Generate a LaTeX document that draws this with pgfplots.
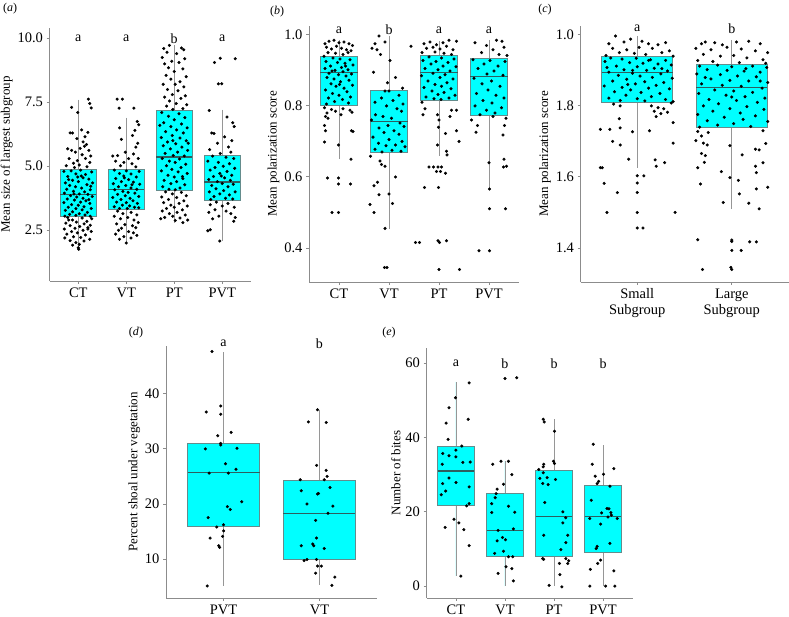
\documentclass[border=0pt]{standalone}
\usepackage{pgfplots}
\pgfplotsset{compat=1.18}
\usepgfplotslibrary{statistics}
\usepackage{fontspec}
\setmainfont{Liberation Serif}
\definecolor{boxfill}{RGB}{0,255,255}
\definecolor{boxedge}{RGB}{100,140,140}
\definecolor{medline}{RGB}{45,95,95}
\definecolor{axgray}{RGB}{140,140,140}
\definecolor{whisk}{RGB}{150,150,150}
\pgfplotsset{
  panel/.style={
    scale only axis, anchor=south west,
    axis x line*=bottom, axis y line*=left,
    axis line style={draw=axgray, line width=0.9pt, -},
    tick style={draw=axgray, line width=0.8pt},
    tick align=outside, major tick length=3pt, minor tick num=0,
    font=\fontsize{14}{16}\selectfont,
    tick label style={font=\fontsize{14.5}{16}\selectfont},
    label style={font=\fontsize{13}{15}\selectfont},
    ylabel style={yshift=-2pt},
    /pgf/number format/assume math mode=true,
    clip=false,
    boxplot/draw direction=y,
  },
  bp/.style={fill=boxfill, draw=boxedge, line width=0.8pt,
    boxplot prepared={#1, draw direction=y, box extend=0.75, whisker extend=0,
      every whisker/.style={draw=whisk, line width=0.8pt},
      every median/.style={draw=medline, line width=1.3pt}}},
  pts/.style={only marks, mark=*, mark size=1.35pt, black},
}
\begin{document}
\begin{tikzpicture}
\useasboundingbox (0,0) rectangle (789pt,617pt);
% ---------------- (a)
\begin{axis}[panel, at={(49.5pt,336pt)}, width=201.5pt, height=253pt,
  xmin=0.4, xmax=4.6, ymin=0.52, ymax=10.4,
  xtick={1,2,3,4}, xticklabels={CT,VT,PT,PVT},
  ytick={2.5,5,7.5,10}, yticklabels={2.5,5.0,7.5,10.0},
  ylabel={Mean size of largest subgroup}]
\addplot[bp={draw position=1, lower whisker=1.75, lower quartile=3.05, median=3.89, upper quartile=4.87, upper whisker=7.6}] coordinates {};
\addplot[bp={draw position=2, lower whisker=2.0, lower quartile=3.32, median=4.09, upper quartile=4.87, upper whisker=6.9}] coordinates {};
\addplot[bp={draw position=3, lower whisker=2.79, lower quartile=4.06, median=5.36, upper quartile=7.19, upper whisker=9.73}] coordinates {};
\addplot[bp={draw position=4, lower whisker=2.08, lower quartile=3.67, median=4.39, upper quartile=5.43, upper whisker=7.21}] coordinates {};
\addplot[pts] coordinates {
(0.86,7.30)(1.21,7.62)(1.24,7.45)(1.27,7.28)(0.99,7.10)(0.83,6.30)(0.88,6.30)(1.07,6.42)(1.20,6.32)(0.97,6.08)(1.14,6.15)(1.10,5.95)(1.17,5.85)(1.13,5.78)(0.78,5.68)(0.86,5.62)(1.04,5.70)(1.22,5.62)(0.94,5.55)(1.08,5.45)(1.26,5.40)(0.81,5.30)(0.98,5.22)(1.15,5.30)(1.02,5.05)(0.90,5.12)(1.24,5.15)(0.75,5.02)(1.18,4.98)(0.92,4.95)
(0.70,4.80)(0.85,4.82)(1.05,4.85)(1.28,4.78)(0.95,4.70)(1.15,4.68)(0.78,4.60)(1.10,4.55)(1.22,4.50)(0.88,4.45)(1.00,4.40)(0.73,4.35)(1.30,4.35)(0.82,4.25)(1.18,4.28)(0.94,4.20)(1.07,4.15)(0.76,4.10)(1.25,4.08)(0.90,4.02)(1.13,4.00)(0.71,3.95)(1.02,3.92)(1.20,3.90)(0.84,3.85)(0.97,3.80)(1.29,3.82)(1.10,3.75)(0.77,3.72)(0.92,3.68)(1.16,3.65)(1.05,3.60)(0.70,3.58)(1.24,3.55)(0.86,3.50)(1.00,3.48)(1.12,3.42)(0.79,3.40)(0.95,3.35)(1.27,3.35)(1.08,3.30)(0.73,3.28)(0.88,3.22)(1.19,3.20)(1.02,3.15)(0.82,3.12)(1.14,3.10)(0.95,3.08)(0.72,3.05)(1.25,3.05)(1.06,4.62)(0.80,4.48)(1.26,4.22)(0.99,4.58)(1.22,3.70)(0.91,3.92)
(0.78,3.00)(1.08,2.98)(1.28,2.95)(0.88,2.90)(1.18,2.85)(0.96,2.82)(0.74,2.78)(1.12,2.75)(1.25,2.70)(0.83,2.68)(1.03,2.65)(0.93,2.58)(1.20,2.55)(0.71,2.55)(1.10,2.50)(0.86,2.45)(1.27,2.45)(0.98,2.40)(0.76,2.35)(1.15,2.32)(0.90,2.25)(1.05,2.22)(0.72,2.20)(1.24,2.15)(0.83,2.10)(1.12,2.08)(0.95,2.02)(1.02,1.95)(0.88,1.92)(1.00,1.82)(1.01,1.76)(1.20,2.60)(0.80,2.90)
(1.81,7.62)(1.92,7.62)(1.85,7.27)(2.16,7.27)(2.23,6.75)(2.26,6.62)(1.86,6.50)(2.18,6.40)(2.13,6.20)(1.90,6.05)(2.24,5.90)(2.20,5.75)(1.98,5.55)(2.15,5.48)(1.72,5.40)(1.82,5.42)(2.05,5.30)(2.25,5.30)(1.78,5.20)(1.95,5.15)(2.12,5.10)(1.88,5.02)(2.20,4.98)
(1.75,4.85)(2.00,4.82)(2.27,4.80)(1.86,4.72)(2.10,4.70)(1.95,4.62)(2.21,4.58)(1.78,4.52)(2.05,4.48)(1.90,4.40)(2.15,4.38)(1.73,4.32)(2.28,4.30)(1.99,4.25)(1.84,4.20)(2.10,4.15)(2.22,4.10)(1.76,4.08)(1.93,4.02)(2.04,3.98)(2.18,3.95)(1.82,3.90)(1.98,3.85)(2.26,3.82)(1.72,3.78)(2.08,3.75)(1.89,3.70)(2.14,3.65)(1.80,3.60)(2.00,3.58)(2.23,3.55)(1.92,3.48)(2.07,3.45)(1.75,3.42)(2.17,3.40)(1.86,3.35)(2.02,3.35)(2.26,3.38)(1.96,4.55)(2.12,4.28)
(1.82,3.25)(2.10,3.20)(1.93,3.15)(2.22,3.10)(1.75,3.05)(2.03,3.00)(1.88,2.95)(2.16,2.90)(2.25,2.80)(1.80,2.75)(1.97,2.72)(2.13,2.68)(2.20,2.60)(1.90,2.58)(1.84,2.50)(2.05,2.45)(2.15,2.40)(1.78,2.35)(2.22,2.30)(1.95,2.25)(2.10,2.20)(1.86,2.15)(2.00,2.00)
(2.78,9.60)(2.90,9.72)(3.15,9.62)(3.20,9.55)(2.85,9.45)(3.05,9.40)(2.75,9.25)(2.95,9.10)(3.22,9.20)(2.80,9.00)(3.10,9.05)(2.88,8.85)(3.18,8.80)(3.00,8.70)(2.83,8.55)(3.25,8.50)(2.93,8.40)(3.12,8.30)(2.77,8.20)(3.02,8.20)(3.20,8.10)(2.86,8.00)(3.08,7.95)(2.96,7.80)(3.23,7.75)(2.80,7.70)(3.14,7.65)(2.90,7.55)(3.04,7.45)(3.26,7.40)(2.84,7.35)(3.18,7.25)(2.97,7.22)
(2.74,7.10)(3.10,7.05)(2.88,6.95)(3.22,6.90)(3.00,6.82)(2.78,6.70)(3.15,6.65)(2.93,6.55)(3.27,6.50)(3.05,6.42)(2.82,6.35)(3.19,6.30)(2.96,6.20)(2.73,6.12)(3.12,6.10)(3.25,6.00)(2.86,5.95)(3.03,5.88)(2.77,5.80)(3.16,5.75)(2.92,5.68)(3.28,5.62)(3.07,5.55)(2.81,5.50)(2.98,5.42)(3.21,5.40)(2.75,5.30)(3.11,5.28)(2.90,5.20)(3.02,5.15)(3.24,5.08)(2.84,5.02)(3.14,4.95)(2.95,4.88)(2.73,4.82)(3.08,4.78)(3.27,4.72)(2.87,4.65)(3.00,4.58)(3.18,4.52)(2.79,4.45)(3.05,4.40)(2.93,4.32)(3.22,4.28)(2.76,4.20)(3.12,4.15)(2.89,4.10)(3.02,4.08)(2.70,6.60)(3.29,5.90)(2.97,6.00)(3.17,4.60)
(2.82,4.00)(3.15,3.98)(2.96,3.92)(3.25,3.85)(2.74,3.80)(3.05,3.78)(2.88,3.70)(3.20,3.65)(2.78,3.58)(3.10,3.55)(2.93,3.48)(3.27,3.45)(3.00,3.40)(2.84,3.35)(3.17,3.30)(2.75,3.25)(3.06,3.20)(2.90,3.15)(3.23,3.10)(2.97,3.05)(2.80,3.00)(3.12,2.98)(2.72,2.95)(3.28,2.90)(3.02,2.88)(3.18,2.80)
(3.84,9.05)(3.96,9.22)(4.27,9.20)(3.92,8.22)(3.99,8.22)(3.73,7.18)(4.10,6.92)(4.22,6.70)(4.25,6.55)(3.78,6.30)(3.83,6.28)(4.05,6.15)(4.20,6.00)(3.90,5.90)(4.13,5.75)(3.74,5.65)(4.18,5.55)(3.96,5.50)
(3.80,5.40)(4.08,5.35)(4.24,5.30)(3.70,5.20)(3.92,5.15)(4.15,5.10)(4.02,5.00)(3.85,4.95)(4.26,4.92)(3.75,4.85)(4.10,4.80)(3.95,4.72)(4.20,4.65)(3.82,4.60)(4.05,4.55)(3.72,4.48)(4.17,4.45)(3.90,4.40)(4.00,4.33)(4.23,4.30)(3.78,4.25)(4.12,4.20)(3.87,4.12)(4.03,4.05)(3.73,4.00)(4.27,4.00)(3.95,3.92)(4.15,3.88)(3.83,3.82)(4.07,3.75)(3.76,3.70)(4.22,3.72)(3.98,4.62)
(3.88,3.60)(4.12,3.55)(3.75,3.50)(4.00,3.45)(4.25,3.40)(3.85,3.30)(4.08,3.25)(3.72,3.20)(4.18,3.15)(3.93,3.05)(4.27,3.00)(4.24,2.85)(3.80,2.95)(3.75,2.52)(3.70,2.48)(3.95,2.08)
};
\node at (axis cs:1,10) {a};
\node at (axis cs:2,10) {a};
\node at (axis cs:3,10) {b};
\node at (axis cs:4,10) {a};
\end{axis}
% ---------------- (b)
\begin{axis}[panel, at={(309pt,335pt)}, width=210pt, height=256pt,
  xmin=0.4, xmax=4.6, ymin=0.304, ymax=1.025,
  xtick={1,2,3,4}, xticklabels={CT,VT,PT,PVT},
  ytick={0.4,0.6,0.8,1.0}, yticklabels={0.4,0.6,0.8,1.0},
  ylabel={Mean polarization score}]
\addplot[bp={draw position=1, lower whisker=0.65, lower quartile=0.802, median=0.894, upper quartile=0.938, upper whisker=0.985}] coordinates {};
\addplot[bp={draw position=2, lower whisker=0.453, lower quartile=0.668, median=0.756, upper quartile=0.844, upper whisker=0.997}] coordinates {};
\addplot[bp={draw position=3, lower whisker=0.659, lower quartile=0.816, median=0.894, upper quartile=0.941, upper whisker=0.983}] coordinates {};
\addplot[bp={draw position=4, lower whisker=0.563, lower quartile=0.772, median=0.882, upper quartile=0.933, upper whisker=0.986}] coordinates {};
\addplot[pts] coordinates {
(0.72,0.975)(0.80,0.982)(0.90,0.985)(1.00,0.978)(1.10,0.980)(1.20,0.975)(1.27,0.970)(0.75,0.965)(0.85,0.960)(0.95,0.968)(1.05,0.962)(1.15,0.958)(1.24,0.955)(0.78,0.950)(0.93,0.948)(1.08,0.945)(1.18,0.950)(0.70,0.940)
(0.88,0.935)(1.02,0.932)(1.22,0.930)(0.74,0.925)(0.97,0.922)(1.12,0.920)(1.28,0.915)(0.83,0.912)(1.05,0.908)(0.72,0.905)(1.18,0.902)(0.92,0.900)(1.08,0.896)(0.80,0.892)(1.25,0.890)(0.99,0.888)(1.14,0.884)(0.76,0.880)(0.90,0.876)(1.20,0.872)(1.03,0.868)(0.84,0.862)(1.27,0.858)(0.94,0.855)(1.10,0.850)(0.73,0.845)(1.16,0.840)(0.87,0.835)(1.00,0.830)(1.23,0.825)(0.79,0.822)(1.07,0.818)(0.91,0.812)(1.19,0.808)(0.75,0.805)(1.01,0.860)(0.86,0.898)(1.13,0.912)
(0.71,0.795)(0.85,0.790)(1.08,0.792)(1.22,0.788)(0.76,0.780)(1.26,0.782)(0.93,0.785)(0.73,0.770)(0.78,0.765)(1.04,0.775)(0.71,0.745)(0.73,0.730)(1.28,0.728)(1.25,0.730)(0.71,0.698)(0.99,0.690)(1.24,0.650)(0.77,0.597)(0.99,0.597)(0.99,0.580)(1.23,0.580)(0.86,0.500)(0.99,0.500)
(1.80,0.997)(1.72,0.975)(1.92,0.980)(1.66,0.962)(1.76,0.958)(2.44,0.968)(1.83,0.945)(2.02,0.928)(1.69,0.895)(2.13,0.880)(1.97,0.865)(2.27,0.850)
(1.92,0.842)(2.00,0.842)(2.20,0.830)(1.85,0.822)(2.08,0.815)(1.72,0.810)(2.28,0.805)(1.95,0.800)(2.16,0.792)(2.25,0.785)(1.73,0.775)(1.88,0.770)(2.05,0.765)(1.65,0.760)(2.22,0.752)(1.98,0.745)(2.30,0.742)(1.80,0.738)(2.10,0.730)(1.90,0.725)(2.20,0.720)(1.68,0.712)(2.00,0.705)(2.26,0.700)(1.79,0.695)(2.13,0.690)(1.94,0.688)(2.32,0.685)(1.72,0.678)(2.06,0.675)(2.24,0.672)(1.86,0.670)
(1.63,0.658)(1.82,0.645)(1.85,0.635)(1.92,0.630)(2.13,0.600)(1.77,0.585)(1.70,0.575)(1.80,0.550)(2.00,0.552)(2.07,0.525)(1.62,0.522)(1.70,0.500)(1.92,0.455)(1.91,0.345)(1.96,0.345)
(2.70,0.975)(2.82,0.980)(2.95,0.972)(3.08,0.978)(3.20,0.985)(3.35,0.982)(2.75,0.962)(2.88,0.965)(3.02,0.960)(3.15,0.968)(3.28,0.958)(2.66,0.950)(2.92,0.952)(3.10,0.948)(3.25,0.945)
(2.80,0.938)(3.05,0.935)(3.30,0.932)(2.68,0.928)(2.94,0.925)(3.18,0.922)(2.84,0.918)(3.08,0.912)(3.34,0.910)(2.72,0.905)(2.98,0.902)(3.22,0.898)(2.88,0.892)(3.12,0.888)(2.65,0.885)(3.02,0.880)(3.28,0.876)(2.78,0.870)(3.16,0.865)(2.92,0.860)(3.05,0.855)(2.70,0.852)(3.24,0.848)(2.86,0.842)(3.10,0.838)(2.98,0.832)(3.32,0.830)(2.74,0.825)(3.20,0.822)(2.90,0.820)(3.04,0.818)
(2.66,0.810)(2.72,0.792)(2.68,0.775)(3.25,0.788)(3.35,0.788)(2.97,0.775)(3.00,0.760)(3.22,0.770)(2.99,0.740)(3.13,0.722)(3.35,0.730)(3.40,0.700)(2.97,0.690)(3.15,0.672)(3.16,0.662)(2.80,0.628)(2.89,0.628)(2.98,0.628)(3.05,0.628)(2.95,0.615)(3.03,0.615)(3.13,0.610)(2.71,0.570)(2.99,0.570)(2.53,0.415)(2.61,0.415)(2.98,0.420)(3.01,0.415)(3.15,0.420)(3.00,0.339)(3.41,0.339)
(3.72,0.978)(4.15,0.985)(4.26,0.982)(3.95,0.970)(4.30,0.965)(4.08,0.958)(3.85,0.950)(4.20,0.945)(4.36,0.942)
(3.68,0.930)(4.02,0.928)(4.32,0.925)(3.90,0.918)(4.18,0.912)(3.78,0.905)(4.10,0.898)(3.96,0.890)(4.28,0.886)(3.70,0.878)(4.05,0.870)(3.86,0.862)(4.22,0.855)(3.98,0.845)(3.75,0.835)(4.14,0.830)(4.30,0.822)(3.88,0.815)(4.06,0.808)(3.72,0.800)(4.25,0.795)(3.95,0.788)(4.12,0.780)(3.82,0.775)
(3.65,0.760)(3.77,0.745)(4.31,0.745)(4.34,0.765)(3.74,0.726)(4.08,0.770)(4.28,0.718)(4.00,0.640)(4.29,0.628)(4.35,0.630)(4.30,0.650)(4.01,0.566)(4.01,0.510)(4.33,0.510)(3.80,0.392)(4.01,0.392)
};
\node at (axis cs:1,1.014) {a};
\node at (axis cs:2,1.014) {b};
\node at (axis cs:3,1.014) {a};
\node at (axis cs:4,1.014) {a};
\end{axis}
% ---------------- (c)
\begin{axis}[panel, at={(580.5pt,335pt)}, width=208pt, height=256pt,
  xmin=0.4, xmax=2.6, ymin=0.304, ymax=1.025,
  xtick={1,2}, xticklabels={Small\\Subgroup,Large\\Subgroup},
  xticklabel style={align=center},
  ytick={0.4,0.6,0.8,1.0}, yticklabels={1.4,1.6,1.8,1.0},
  ylabel={Mean polarization score}]
\addplot[bp={draw position=1, lower whisker=0.626, lower quartile=0.811, median=0.895, upper quartile=0.938, upper whisker=0.997}] coordinates {};
\addplot[bp={draw position=2, lower whisker=0.509, lower quartile=0.739, median=0.852, upper quartile=0.917, upper whisker=0.986}] coordinates {};
\addplot[pts] coordinates {
(0.70,0.975)(0.77,0.997)(0.86,0.980)(0.93,0.988)(1.05,0.982)(1.12,0.975)(1.22,0.972)(1.30,0.978)(0.74,0.962)(0.89,0.958)(1.02,0.965)(1.16,0.962)(1.34,0.955)(0.81,0.950)(0.97,0.948)(1.09,0.945)(1.26,0.950)(1.38,0.940)(0.67,0.942)
(0.72,0.935)(0.84,0.932)(0.99,0.934)(1.14,0.930)(1.30,0.928)(0.66,0.925)(0.92,0.922)(1.06,0.920)(1.22,0.918)(1.36,0.915)(0.78,0.912)(1.00,0.910)(1.18,0.906)(0.86,0.902)(1.10,0.900)(1.32,0.898)(0.70,0.895)(0.95,0.892)(1.25,0.890)(0.80,0.886)(1.03,0.884)(1.16,0.880)(1.37,0.878)(0.89,0.875)(0.74,0.870)(1.08,0.868)(1.28,0.866)(0.98,0.862)(1.20,0.858)(0.65,0.856)(0.84,0.852)(1.12,0.850)(1.34,0.848)(0.93,0.845)(0.76,0.840)(1.04,0.838)(1.24,0.835)(0.88,0.830)(1.15,0.826)(0.70,0.822)(1.00,0.820)(1.30,0.818)(0.82,0.815)(1.08,0.814)(1.38,0.812)(0.95,0.900)(1.26,0.905)(0.68,0.908)(1.12,0.928)(0.90,0.860)
(0.75,0.805)(0.82,0.800)(1.15,0.800)(1.22,0.795)(1.28,0.792)(1.18,0.785)(1.25,0.778)(1.32,0.782)(1.20,0.770)(1.36,0.808)(1.38,0.753)(0.81,0.764)(0.82,0.738)(0.95,0.727)(1.13,0.730)(0.61,0.734)(0.71,0.734)(0.74,0.700)(0.82,0.690)(1.38,0.695)(0.91,0.650)(1.19,0.648)(1.29,0.640)(1.20,0.630)(0.61,0.626)(0.63,0.626)(0.65,0.582)(1.00,0.603)(1.07,0.603)(1.00,0.583)(0.79,0.556)(1.00,0.556)(0.68,0.500)(1.00,0.500)(1.40,0.500)(1.00,0.456)(1.06,0.456)
(1.68,0.975)(1.72,0.980)(1.82,0.978)(1.90,0.972)(2.05,0.980)(2.18,0.982)(2.30,0.975)(1.62,0.962)(1.78,0.958)(1.95,0.965)(2.10,0.960)(2.25,0.955)(2.38,0.950)(1.70,0.945)(1.88,0.940)(2.02,0.942)(2.16,0.935)(2.33,0.930)(1.64,0.928)(1.80,0.925)(2.08,0.922)(2.36,0.920)
(1.66,0.912)(1.85,0.915)(2.00,0.910)(2.22,0.912)(2.37,0.908)(1.74,0.902)(1.95,0.900)(2.13,0.898)(2.30,0.895)(1.63,0.890)(1.88,0.888)(2.06,0.884)(2.26,0.882)(1.78,0.876)(1.98,0.872)(2.18,0.870)(2.38,0.866)(1.68,0.862)(1.90,0.858)(2.10,0.855)(2.32,0.850)(1.82,0.845)(2.02,0.842)(2.22,0.838)(1.65,0.835)(1.94,0.830)(2.14,0.826)(2.35,0.822)(1.76,0.818)(2.05,0.815)(2.27,0.810)(1.86,0.806)(1.70,0.800)(2.16,0.798)(1.98,0.792)(2.34,0.790)(1.80,0.785)(2.09,0.780)(1.64,0.776)(2.25,0.772)(1.92,0.768)(2.12,0.762)(1.74,0.758)(2.38,0.756)(2.02,0.750)(1.85,0.746)(2.20,0.742)(1.66,0.740)(2.30,0.870)(1.72,0.880)(2.00,0.825)(2.15,0.905)
(1.64,0.728)(1.75,0.725)(1.68,0.715)(2.33,0.730)(1.62,0.702)(1.70,0.695)(1.74,0.690)(1.98,0.688)(2.25,0.678)(2.29,0.676)(2.36,0.694)(1.68,0.666)(1.72,0.660)(2.11,0.662)(1.71,0.641)(2.33,0.640)(1.64,0.626)(2.25,0.630)(1.89,0.615)(2.26,0.612)(1.98,0.598)(2.07,0.590)(1.67,0.580)(2.38,0.571)(2.26,0.566)(2.08,0.552)(1.91,0.528)(2.18,0.526)(2.29,0.510)(1.64,0.423)(2.00,0.422)(2.00,0.418)(2.19,0.417)(2.26,0.417)(2.00,0.393)(2.10,0.393)(1.69,0.339)(1.99,0.345)(2.00,0.339)
};
\node at (axis cs:1,1.018) {a};
\node at (axis cs:2,1.018) {b};
\end{axis}
% ---------------- (d)
\begin{axis}[panel, at={(166pt,19pt)}, width=211pt, height=252pt,
  xmin=0.4, xmax=2.6, ymin=2.9, ymax=48.7,
  xtick={1,2}, xticklabels={PVT,VT},
  ytick={10,20,30,40}, yticklabels={10,20,30,40},
  ylabel={Percent shoal under vegetation}]
\addplot[bp={draw position=1, lower whisker=5.1, lower quartile=15.9, median=25.7, upper quartile=31.0, upper whisker=47.6}] coordinates {};
\addplot[bp={draw position=2, lower whisker=5.3, lower quartile=10.0, median=18.3, upper quartile=24.3, upper whisker=37.1}] coordinates {};
\addplot[pts] coordinates {
(0.88,47.7)(0.82,36.7)(0.97,37.8)(0.97,36.3)(0.94,32.4)(1.08,33.0)(0.97,31.0)(0.97,30.7)(0.81,30.0)(1.14,30.1)(1.02,27.3)(1.13,26.3)(0.85,25.6)(1.05,25.6)(1.19,20.4)(1.04,19.5)(1.07,19.0)(0.84,17.5)(0.93,15.8)(1.00,16.2)(1.00,15.1)(0.99,14.1)(0.86,13.8)(0.95,12.4)(0.96,12.1)(0.83,5.1)
(1.98,37.1)(1.885,34.9)(2.07,34.8)(1.97,27.0)(2.07,26.1)(2.08,25.0)(1.80,24.4)(2.05,24.4)(1.81,22.4)(2.11,23.0)(1.98,21.8)(1.99,21.9)(1.87,20.0)(2.14,19.6)(2.09,18.3)(1.96,17.0)(1.97,13.8)(1.81,12.4)(1.93,12.7)(1.94,12.4)(2.05,11.9)(1.84,9.7)(1.87,9.9)(1.97,9.9)(1.98,8.7)(2.02,8.7)(1.96,7.4)(2.16,6.7)(2.13,5.2)
};
\node at (axis cs:1,49.2) {a};
\node at (axis cs:2,49.2) {b};
\end{axis}
% ---------------- (e)
\begin{axis}[panel, at={(426.5pt,19pt)}, width=206pt, height=250pt,
  xmin=0.4, xmax=4.6, ymin=-3.2, ymax=64.1,
  xtick={1,2,3,4}, xticklabels={CT,VT,PT,PVT},
  ytick={0,20,40,60}, yticklabels={0,20,40,60},
  ylabel={Number of bites}]
\addplot[bp={draw position=1, lower whisker=2.75, lower quartile=21.8, median=31.0, upper quartile=37.7, upper whisker=55.0}] coordinates {};
\addplot[bp={draw position=2, lower whisker=0, lower quartile=7.9, median=14.9, upper quartile=24.9, upper whisker=33.7}] coordinates {};
\addplot[bp={draw position=3, lower whisker=0, lower quartile=7.9, median=18.8, upper quartile=31.2, upper whisker=44.9}] coordinates {};
\addplot[bp={draw position=4, lower whisker=0, lower quartile=9.0, median=18.8, upper quartile=27.1, upper whisker=37.9}] coordinates {};
\addplot[pts] coordinates {
(1.27,54.7)(0.99,50.7)(0.86,48.0)(0.80,43.9)(1.25,44.9)(0.84,39.5)(1.00,36.6)(1.12,37.7)(0.73,35.7)(0.86,35.1)(1.00,34.8)(1.14,33.3)(1.29,33.4)(0.72,32.8)(0.86,29.1)(1.00,27.9)(0.73,27.6)(0.79,25.6)(0.70,24.6)(1.27,26.7)(1.27,22.2)(1.22,21.6)(0.96,18.0)(1.06,17.0)(0.78,15.8)(1.16,15.2)(1.27,10.9)(1.10,2.7)
(2.00,55.9)(2.24,56.1)(1.75,32.8)(1.92,33.6)(2.07,33.6)(2.14,30.0)(1.97,27.4)(1.84,26.1)(1.82,24.9)(1.80,23.8)(1.73,22.2)(2.07,21.5)(2.20,19.9)(1.73,19.8)(2.17,15.4)(1.86,15.0)(1.95,13.1)(1.84,12.2)(2.01,12.5)(1.97,9.4)(1.79,8.8)(2.07,7.9)(2.16,7.9)(2.02,5.2)(2.14,4.7)(1.86,3.4)(2.17,1.4)
(2.78,44.9)(2.80,44.2)(3.01,41.7)(2.99,33.6)(3.01,33.0)(2.79,32.8)(2.78,32.1)(2.69,31.4)(2.78,30.5)(2.71,29.0)(2.86,29.2)(3.03,28.7)(2.77,27.6)(2.88,27.3)(2.81,22.5)(3.18,20.0)(3.24,18.4)(3.18,17.0)(2.79,13.7)(3.28,13.7)(3.24,11.7)(3.14,9.8)(2.77,7.4)(2.79,7.2)(3.24,7.4)(3.30,6.8)(3.28,6.1)(3.11,6.1)(3.12,3.1)(2.90,0.2)(3.16,-0.2)
(3.80,38.2)(3.78,32.8)(4.22,31.6)(4.01,30.1)(3.84,29.6)(3.91,28.2)(3.88,27.6)(4.14,26.9)(3.76,23.1)(3.73,18.2)(3.97,19.7)(4.08,20.9)(4.12,20.8)(4.16,19.8)(4.17,19.1)(4.29,18.2)(4.10,18.6)(3.95,16.7)(3.88,10.7)(3.86,10.1)(4.14,11.5)(3.95,7.0)(3.89,6.1)(3.74,4.5)(4.22,4.1)(3.73,0.0)(4.05,0.0)(4.24,0.0)
};
\node at (axis cs:1,60) {a};
\node at (axis cs:2,60) {b};
\node at (axis cs:3,60) {b};
\node at (axis cs:4,60) {b};
\end{axis}
% panel labels
\node[font=\fontsize{12}{14}\selectfont] at (10pt,608pt) {(\textit{a})};
\node[font=\fontsize{12}{14}\selectfont] at (277pt,605pt) {(\textit{b})};
\node[font=\fontsize{12}{14}\selectfont] at (545pt,607pt) {(\textit{c})};
\node[font=\fontsize{12}{14}\selectfont] at (136pt,284pt) {(\textit{d})};
\node[font=\fontsize{12}{14}\selectfont] at (389pt,284pt) {(\textit{e})};
\end{tikzpicture}
\end{document}
